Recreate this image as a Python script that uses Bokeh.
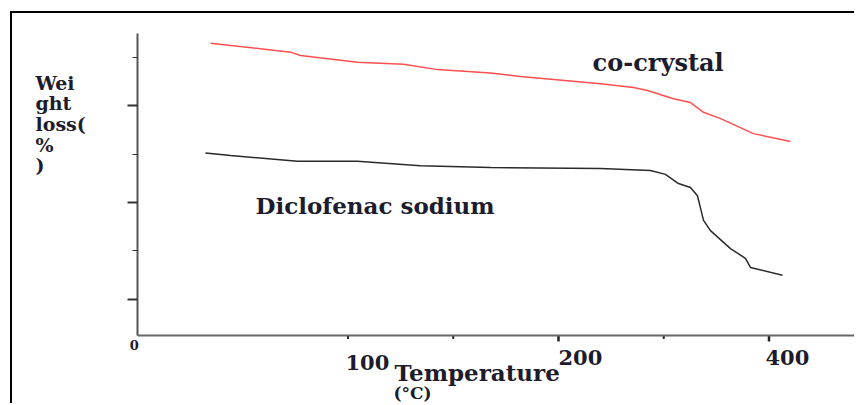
from bokeh.plotting import figure
from bokeh.models import Range1d, FixedTicker, Label, LinearAxis
from bokeh.embed import file_html
from bokeh.resources import INLINE

# ---- data ----
cocrystal_temp = [34.7, 72.7, 77.4, 104.5, 126.4, 142.5, 167.7, 181.9, 220.0, 235.6,
                  242.3, 254.6, 262.7, 268.9, 277.0, 292.6, 310.2]
cocrystal_weight = [92.85, 91.0, 90.3, 88.9, 88.5, 87.4, 86.7, 86.0, 84.5, 83.7,
                    83.1, 81.4, 80.6, 78.6, 77.3, 74.2, 72.6]

diclo_temp = [32.3, 44.2, 76.0, 104.5, 134.4, 167.7, 220.0, 243.7, 250.8, 257.0,
              262.7, 266.0, 267.5, 268.9, 272.2, 281.7, 288.8, 291.2, 306.4]
diclo_weight = [70.2, 69.7, 68.5, 68.5, 67.6, 67.2, 67.0, 66.6, 65.8, 63.9,
                63.1, 61.4, 58.8, 56.3, 54.2, 50.5, 48.5, 46.6, 45.0]

x_tick_values = [100, 200, 300]
x_tick_labels = ["100", "200", "400"]
x_major_ticks = [200, 300]
x_minor_ticks = [100, 150, 250]
y_major_ticks = [40, 60, 80]
y_minor_ticks = [50, 70, 90]

series_names = ["co-crystal", "Diclofenac sodium"]
x_title = "Temperature"
x_unit = "(°C)"
y_title = "Wei\nght\nloss(\n%\n)"

FONT = "DejaVu Serif"
TXT = "#1c1c2c"

X0, X1 = 0, 341.6      # extent of the drawn x axis
Y0, Y1 = 32.58, 94.85  # extent of the drawn y axis
PX_PER_Y = 4.85        # screen pixels per y unit (for tick lengths)

p = figure(width=844, height=392, output_backend="svg", toolbar_location=None,
           x_range=Range1d(-51.78, 341.57), y_range=Range1d(18.14, 96.91),
           x_axis_location=None, y_axis_location=None,
           min_border=0, min_border_left=16, min_border_right=0,
           min_border_top=10, min_border_bottom=0)
p.styles = {"margin-left": "10px", "margin-top": "11px",
            "border-left": "2px solid black", "border-top": "2px solid black"}
p.outline_line_color = None
p.xgrid.visible = False
p.ygrid.visible = False
p.background_fill_color = "white"
p.border_fill_color = "white"

# x axis line (placed at the foot of the y axis)
xa = LinearAxis(ticker=FixedTicker(ticks=x_major_ticks, minor_ticks=x_minor_ticks),
                fixed_location=Y0, bounds=(X0, X1))
xa.major_label_overrides = {v: "" for v in x_major_ticks}
xa.major_label_text_font_size = "0px"
xa.major_label_standoff = 0
xa.axis_line_color = "#666666"
xa.axis_line_width = 2
xa.major_tick_in = 0
xa.major_tick_out = 0
xa.minor_tick_in = 0
xa.minor_tick_out = 0
p.add_layout(xa, "above")

# x tick marks, hanging below the axis line
p.segment(x0=x_major_ticks, y0=[Y0] * len(x_major_ticks),
          x1=x_major_ticks, y1=[Y0 - 6 / PX_PER_Y] * len(x_major_ticks),
          line_color="#222222", line_width=2.5)
p.segment(x0=x_minor_ticks, y0=[Y0] * len(x_minor_ticks),
          x1=x_minor_ticks, y1=[Y0 - 3.5 / PX_PER_Y] * len(x_minor_ticks),
          line_color="#222222", line_width=2)

# y axis
ya = LinearAxis(ticker=FixedTicker(ticks=y_major_ticks, minor_ticks=y_minor_ticks),
                fixed_location=X0, bounds=(Y0, Y1))
ya.major_label_overrides = {v: "" for v in y_major_ticks}
ya.major_label_text_font_size = "0px"
ya.major_label_standoff = 0
ya.axis_line_color = "#555555"
ya.axis_line_width = 2
ya.major_tick_in = 0
ya.major_tick_out = 10
ya.minor_tick_in = 0
ya.minor_tick_out = 5
ya.major_tick_line_color = "#333333"
ya.major_tick_line_width = 2
ya.minor_tick_line_color = "#333333"
ya.minor_tick_line_width = 1
p.add_layout(ya, "left")

# curves
p.line(cocrystal_temp, cocrystal_weight, line_color="#ff4f4f", line_width=1.5)
p.line(diclo_temp, diclo_weight, line_color="#2a2a2a", line_width=1.5)

def lab(x, y, text, size, baseline="middle", align="left", lh=1.2):
    p.add_layout(Label(x=x, y=y, text=text, text_font=FONT, text_font_size=size,
                       text_font_style="bold", text_color=TXT,
                       text_baseline=baseline, text_align=align,
                       text_line_height=lh))

# series labels
lab(216.2, 88.87, series_names[0], "24px")
lab(56.06, 59.38, series_names[1], "23px")

# tick labels
lab(-1.5, 30.52, "0", "13px", align="center")
lab(98.8, 27.0, x_tick_labels[0], "21px")
lab(200.0, 28.04, x_tick_labels[1], "21px")
lab(298.3, 28.04, x_tick_labels[2], "21px")

# axis titles
lab(122.1, 24.95, x_title, "23px")
lab(121.6, 20.72, x_unit, "17px")
lab(-48.46, 87.0, y_title, "19px", baseline="top", lh=0.94)

open("out.html", "w").write(file_html(p, INLINE))
